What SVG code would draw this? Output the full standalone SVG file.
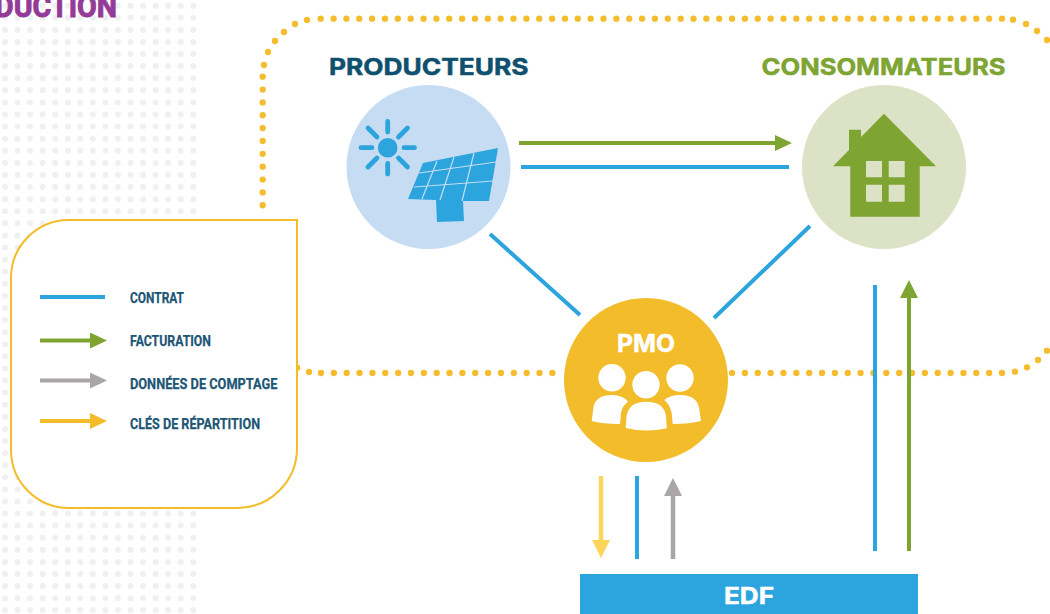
<svg xmlns="http://www.w3.org/2000/svg" width="1050" height="614" viewBox="0 0 1050 614">
<style>
.wide{font-family:"Inter","Liberation Sans",sans-serif;font-weight:700;stroke-width:.5}
.cond{font-family:"Roboto","Liberation Sans",sans-serif;font-weight:700;font-size:15px;fill:#1d5675;stroke:#1d5675;stroke-width:.25}
.blue{stroke:#2ca4de;stroke-width:4;fill:none}
.dot{fill:none;stroke:#f5bc2d;stroke-width:6.300;stroke-linecap:round}
</style>
<defs>
<marker id="aG" viewBox="0 0 17 16" refX="1" refY="8" markerUnits="userSpaceOnUse" markerWidth="17" markerHeight="16" orient="auto"><path d="M0 0L17 8L0 16Z" fill="#7ea432"/></marker>
<marker id="aGv" viewBox="0 0 18 18" refX="1" refY="9" markerUnits="userSpaceOnUse" markerWidth="18" markerHeight="18" orient="auto"><path d="M0 0L18 9L0 18Z" fill="#7ea432"/></marker>
<marker id="aH" viewBox="0 0 17 16" refX="1" refY="8" markerUnits="userSpaceOnUse" markerWidth="17" markerHeight="16" orient="auto"><path d="M0 0L17 8L0 16Z" fill="#aaa5a7"/></marker>
<marker id="aHv" viewBox="0 0 18 18" refX="1" refY="9" markerUnits="userSpaceOnUse" markerWidth="18" markerHeight="18" orient="auto"><path d="M0 0L18 9L0 18Z" fill="#aaa5a7"/></marker>
<marker id="aY" viewBox="0 0 17 16" refX="1" refY="8" markerUnits="userSpaceOnUse" markerWidth="17" markerHeight="16" orient="auto"><path d="M0 0L17 8L0 16Z" fill="#f2bc2a"/></marker>
<marker id="aL" viewBox="0 0 18 18" refX="1" refY="9" markerUnits="userSpaceOnUse" markerWidth="18" markerHeight="18" orient="auto"><path d="M0 0L18 9L0 18Z" fill="#fdd55a"/></marker>
</defs>
<path id="dot-background" fill="none" stroke="#eff0f2" stroke-width="6" stroke-linecap="round" stroke-dasharray="0 12.55" d="M5 5.700H194M5 17.800H194M5 29.900H194M5 42H194M5 54H194M5 66.100H194M5 78.200H194M5 90.300H194M5 102.400H194M5 114.500H194M5 126.600H194M5 138.700H194M5 150.800H194M5 162.900H194M5 175H194M5 187.100H194M5 199.200H194M5 211.200H194M5 223.300H194M5 235.400H194M5 247.500H194M5 259.600H194M5 271.700H194M5 283.800H194M5 295.900H194M5 308H194M5 320.100H194M5 332.200H194M5 344.200H194M5 356.300H194M5 368.400H194M5 380.500H194M5 392.600H194M5 404.700H194M5 416.800H194M5 428.900H194M5 441H194M5 453.100H194M5 465.200H194M5 477.300H194M5 489.400H194M5 501.500H194M5 513.500H194M5 525.600H194M5 537.700H194M5 549.800H194M5 561.900H194M5 574H194M5 586.100H194M5 598.200H194M5 610.300H194"/>
<text id="title" x="-5" y="16.700" style="font-family:Roboto,'Liberation Sans',sans-serif;font-weight:700;font-size:32px;fill:#943b97;stroke:#943b97;stroke-width:1" textLength="122" lengthAdjust="spacingAndGlyphs">DUCTION</text>
<g id="perimeter">
<path class="dot" stroke-dasharray="0 12.855" d="M320.700 18.700H1003M262.700 76.700V218M1002 373H730M321 373H565"/>
<path class="dot" d="M307 20h0M295 24h0M284 32h0M275 41h0M268 52h0M264 65h0M1013 19.700h0M1026 24h0M1037 31h0M1047 40h0M1015 371.700h0M1027 367.300h0M1038 360h0M1047 350.700h0M309 372h0M297.300 367.700h0"/>
</g>
<g id="connectors">
<path d="M519 143H776" stroke="#7ea432" stroke-width="4" fill="none" marker-end="url(#aG)"/>
<path class="blue" d="M521 167H789"/>
<path class="blue" d="M490 234L580 315"/>
<path class="blue" d="M810 226L714 318"/>
<path d="M601 476V541" stroke="#fdd55a" stroke-width="4.500" fill="none" marker-end="url(#aL)"/>
<path class="blue" d="M637 476V559"/>
<path d="M673 559V495" stroke="#aaa5a7" stroke-width="4.500" fill="none" marker-end="url(#aHv)"/>
<path class="blue" d="M875 285V551"/>
<path d="M909 551V297" stroke="#7ea432" stroke-width="4" fill="none" marker-end="url(#aGv)"/>
</g>
<g id="producteurs">
<text x="329" y="74.500" class="wide" font-size="23" fill="#10506f" stroke="#10506f" textLength="199.500" lengthAdjust="spacingAndGlyphs">PRODUCTEURS</text>
<circle cx="428.500" cy="167" r="82" fill="#c5dcf2"/>
<circle cx="387.700" cy="147.700" r="9.800" fill="#2ca4de"/>
<path d="M387.700 121.500V132M387.700 163.500V174M361 147.700H372M404 147.700H414.500M368 128L377 137M407.500 128L398.500 137M368 167L377 158M407.500 167L398.500 158" stroke="#2ca4de" stroke-width="4.800" stroke-linecap="round" fill="none"/>
<path d="M408 199L423 163L498 148L489 201L463 201L464 221L437 222L436 200Z" fill="#2ca4de"/>
<path d="M419 173L496 162M414 187L493 181M437 161L422 199M454 157L440 200M474 153L462 201" stroke="#c5dcf2" stroke-width="1.200" fill="none"/>
</g>
<g id="consommateurs">
<text x="761.500" y="74.500" class="wide" font-size="23" fill="#7ea432" stroke="#7ea432" textLength="244" lengthAdjust="spacingAndGlyphs">CONSOMMATEURS</text>
<circle cx="884" cy="167" r="82" fill="#dbe2c6"/>
<path d="M833 166.300L849 150V129.700H861V137L884 113.700L936 166.300H919.700V216.700H850.300V166.300Z" fill="#7ea432"/>
<path d="M866 161H882V177.300H866ZM888.700 161H904.700V177.300H888.700ZM866 184.700H882V201.700H866ZM888.700 184.700H904.700V201.700H888.700Z" fill="#dbe2c6"/>
</g>
<g id="pmo">
<circle cx="646" cy="380" r="82" fill="#f2bc2a"/>
<text x="617" y="351.700" class="wide" font-size="24" fill="#fff" stroke="#fff" textLength="58" lengthAdjust="spacingAndGlyphs">PMO</text>
<g fill="#fff">
<circle cx="612" cy="377.700" r="13.700"/><circle cx="680" cy="378" r="13.700"/><circle cx="646" cy="384.700" r="13.700"/>
<path d="M591.700 421L593.500 407Q596 395 612 395Q623 395 628 401.700Q622 406 621 413L620 424Q602 424 591.700 421Z"/>
<path d="M701 421L699 407Q696 395 680 395Q670 395 664.300 400Q670 405 671.700 413L672.700 424Q690 424 701 421Z"/>
<path d="M625.700 428L626.500 416Q629 401.700 646 401.700Q664 401.700 666 416L666.700 428.300Q646 433 625.700 428Z"/>
</g>
</g>
<g id="edf">
<rect x="580" y="574" width="338" height="40" fill="#2ca4de"/>
<text x="724" y="604" class="wide" font-size="23" fill="#fff" stroke="#fff" textLength="50" lengthAdjust="spacingAndGlyphs">EDF</text>
</g>
<g id="legend">
<path d="M297 220V448A60 60 0 0 1 237 508H69A58 58 0 0 1 11 450V278A58 58 0 0 1 69 220Z" fill="#fff" stroke="#f2bc2a" stroke-width="2"/>
<path class="blue" d="M40 297H105"/>
<path d="M40 340.500H91" stroke="#7ea432" stroke-width="4" fill="none" marker-end="url(#aG)"/>
<path d="M40 380.500H91" stroke="#aaa5a7" stroke-width="4" fill="none" marker-end="url(#aH)"/>
<path d="M40 421H91" stroke="#f2bc2a" stroke-width="4" fill="none" marker-end="url(#aY)"/>
<text x="130" y="303" class="cond" textLength="54" lengthAdjust="spacingAndGlyphs">CONTRAT</text>
<text x="130" y="346" class="cond" textLength="81" lengthAdjust="spacingAndGlyphs">FACTURATION</text>
<text x="130" y="389.300" class="cond" textLength="147.500" lengthAdjust="spacingAndGlyphs">DONNÉES DE COMPTAGE</text>
<text x="130" y="429.300" class="cond" textLength="130" lengthAdjust="spacingAndGlyphs">CLÉS DE RÉPARTITION</text>
</g>
</svg>
